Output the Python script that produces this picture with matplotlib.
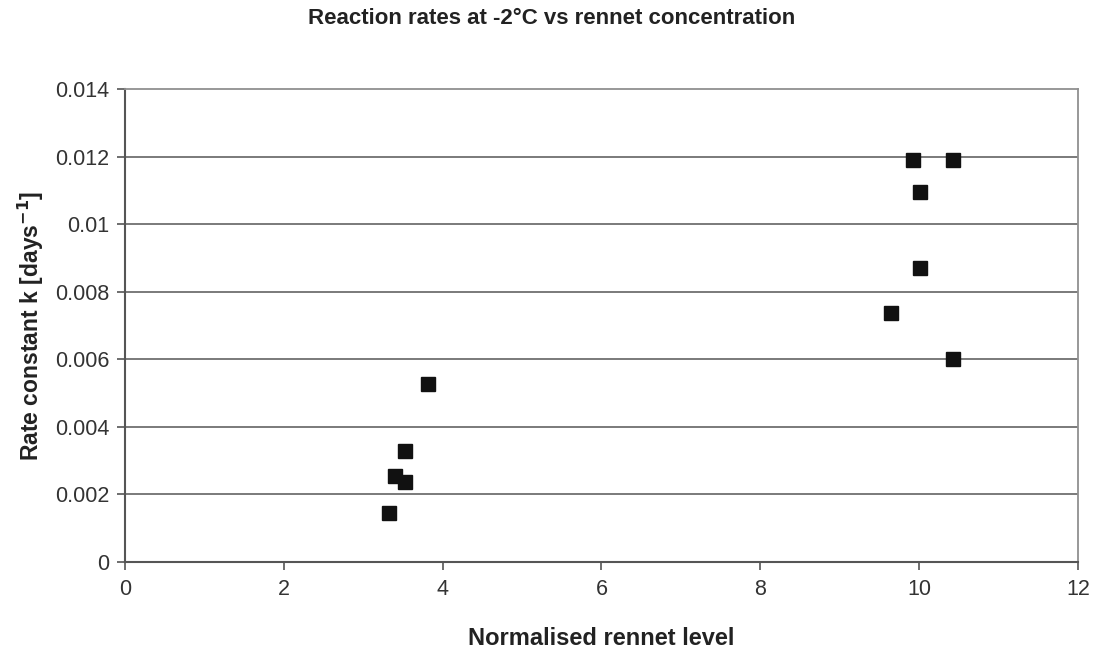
import matplotlib.pyplot as plt
import numpy as np

plt.rcParams['font.family'] = ['Liberation Sans', 'DejaVu Sans']

# normalised rennet level vs rate constant at -2 C
rennet = [3.32, 3.40, 3.53, 3.53, 3.81, 9.64, 9.92, 10.43, 10.01, 10.01, 10.43]
k_rate = [0.00146, 0.00255, 0.00238, 0.00329, 0.00527, 0.00737,
          0.0119, 0.0119, 0.01096, 0.0087, 0.0060]

x_ticks = np.arange(0, 13, 2)
y_ticks = np.arange(0, 0.0141, 0.002)
y_labels = ['0', '0.002', '0.004', '0.006', '0.008', '0.01', '0.012', '0.014']

fig = plt.figure(figsize=(11.04, 6.52), dpi=100)
ax = fig.add_axes([0.1132, 0.138, 0.8632, 0.7255])

for yv in y_ticks[1:-1]:
    ax.axhline(yv, color='#707070', linewidth=1.3, zorder=1)

ax.plot(rennet, k_rate, linestyle='none', marker='s', markersize=9.5,
        color='#111111', zorder=3)

ax.set_xlim(0, 12)
ax.set_ylim(0, 0.014)
ax.set_xticks(x_ticks)
ax.set_xticklabels([str(v) for v in x_ticks])
ax.set_yticks(y_ticks)
ax.set_yticklabels(y_labels)
ax.tick_params(axis='both', labelsize=15.5, direction='out', length=6,
               width=1.2, color='#555555', labelcolor='#333333')
ax.tick_params(axis='x', pad=6)
ax.tick_params(axis='y', pad=5)

for side in ['left', 'bottom']:
    ax.spines[side].set_color('#555555')
    ax.spines[side].set_linewidth(1.5)
for side in ['top', 'right']:
    ax.spines[side].set_color('#909090')
    ax.spines[side].set_linewidth(1.3)

ax.set_xlabel('Normalised rennet level', fontsize=17, fontweight='bold',
              color='#222222', labelpad=20)
ax.set_ylabel('Rate constant k [days$^{\\mathbf{-1}}$]', fontsize=16.5,
              fontweight='bold', color='#222222', labelpad=7)
fig.text(0.5, 0.972, 'Reaction rates at -2°C vs rennet concentration',
         ha='center', va='center', fontsize=16, fontweight='bold',
         color='#222222')

fig.savefig('out.png', dpi=100)
